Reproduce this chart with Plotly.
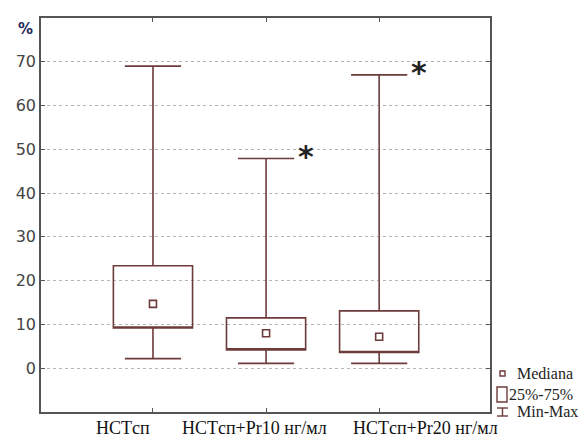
import plotly.graph_objects as go

categories = ["HCTсп", "HCTсп+Pr10 нг/мл", "HCTсп+Pr20 нг/мл"]
q1_vals = [9.2, 4.2, 3.6]
median_vals = [14.7, 8.0, 7.2]
q3_vals = [23.4, 11.5, 13.1]
min_vals = [2.2, 1.1, 1.1]
max_vals = [69.0, 47.9, 67.0]
significant = [False, True, True]
y_ticks = [0, 10, 20, 30, 40, 50, 60, 70]

LINE = "#6e3b3b"
L, R, T, B = 41, 490, 18, 412
W, H = 587, 439
fig = go.Figure()

fig.add_trace(go.Box(
    x=list(range(len(categories))), q1=q1_vals, median=q1_vals, q3=q3_vals,
    lowerfence=min_vals, upperfence=max_vals,
    width=0.7, whiskerwidth=0.71,
    line=dict(color=LINE, width=1.6), fillcolor="rgba(0,0,0,0)",
    boxpoints=False, showlegend=False, hoverinfo="skip",
))
fig.add_trace(go.Scatter(
    x=list(range(len(categories))), y=median_vals, mode="markers",
    marker=dict(symbol="square-open", size=7, color=LINE, line=dict(width=1.6, color=LINE)),
    showlegend=False, hoverinfo="skip",
))

def px(x, y):
    return (x - L) / (R - L), (B - y) / (B - T)

annotations = []
for i, (mx, sig) in enumerate(zip(max_vals, significant)):
    if sig:
        annotations.append(dict(x=i + 0.35, y=mx + 0.5, xref="x", yref="y", text="<b>*</b>",
                                showarrow=False, font=dict(size=30, color="#222", family="DejaVu Sans")))

# category labels (placed as in the reference, slightly off the ticks)
label_px = [(95, 151), (176, 332), (348, 503)]
for cat, (a, b) in zip(categories, label_px):
    cx, cy = px((a + b) / 2, 439)
    annotations.append(dict(x=cx, y=cy, xref="paper", yref="paper", text=cat, showarrow=False,
                            xanchor="center", yanchor="bottom", borderpad=0,
                            font=dict(family="Liberation Serif", size=18, color="#111")))

ax, ay = px(35, 29)
annotations.append(dict(x=ax, y=ay, xref="paper", yref="paper", text="<b>%</b>", showarrow=False,
                        xanchor="right", yanchor="middle",
                        font=dict(size=15, color="#1f2b5a", family="DejaVu Sans")))

legend_font = dict(family="Liberation Serif", size=16, color="#222")
for txt, xp, yp in [("Mediana", 516, 373), ("25%-75%", 508, 394), ("Min-Max", 516, 411)]:
    lx, ly = px(xp, yp)
    annotations.append(dict(x=lx, y=ly, xref="paper", yref="paper", text=txt, showarrow=False,
                            xanchor="left", yanchor="middle", borderpad=0, font=legend_font))
fig.update_layout(annotations=annotations)

shapes = []
x0, y0 = px(500, 376); x1, y1 = px(505, 371)
shapes.append(dict(type="rect", xref="paper", yref="paper", x0=x0, y0=y0, x1=x1, y1=y1,
                   line=dict(color=LINE, width=1.4)))
x0, y0 = px(497, 402); x1, y1 = px(507, 387)
shapes.append(dict(type="rect", xref="paper", yref="paper", x0=x0, y0=y0, x1=x1, y1=y1,
                   line=dict(color=LINE, width=1.4)))
xa, ya = px(497, 408); xb, yb = px(508, 416); xm, _ = px(502.5, 0)
shapes.append(dict(type="line", xref="paper", yref="paper", x0=xa, x1=xb, y0=ya, y1=ya, line=dict(color=LINE, width=1.4)))
shapes.append(dict(type="line", xref="paper", yref="paper", x0=xa, x1=xb, y0=yb, y1=yb, line=dict(color=LINE, width=1.4)))
shapes.append(dict(type="line", xref="paper", yref="paper", x0=xm, x1=xm, y0=ya, y1=yb, line=dict(color=LINE, width=1.4)))
fig.update_layout(shapes=shapes)

fig.update_layout(
    width=W, height=H,
    margin=dict(l=L, r=W - R, t=T, b=H - B, autoexpand=False),
    paper_bgcolor="white", plot_bgcolor="white",
    showlegend=False,
)
fig.update_xaxes(
    range=[-0.99, 2.98], automargin=False,
    tickvals=list(range(len(categories))), ticktext=categories, showticklabels=False,
    showline=True, linecolor="#555", linewidth=1.5, mirror="allticks",
    ticks="inside", ticklen=4, tickcolor="#555",
    showgrid=False, zeroline=False,
)
fig.update_yaxes(
    range=[-10, 80], tickvals=y_ticks, automargin=False,
    showline=True, linecolor="#555", linewidth=1.5, mirror="allticks",
    ticks="inside", ticklen=4, tickcolor="#555",
    showgrid=True, gridcolor="#b5b5b5", griddash="dot", gridwidth=1,
    zeroline=False,
    tickfont=dict(family="DejaVu Sans", size=16, color="#444"),
)

fig.write_html("out.html", config={"displayModeBar": False},
               post_script="document.body.style.margin='0';document.body.style.overflow='hidden';")
